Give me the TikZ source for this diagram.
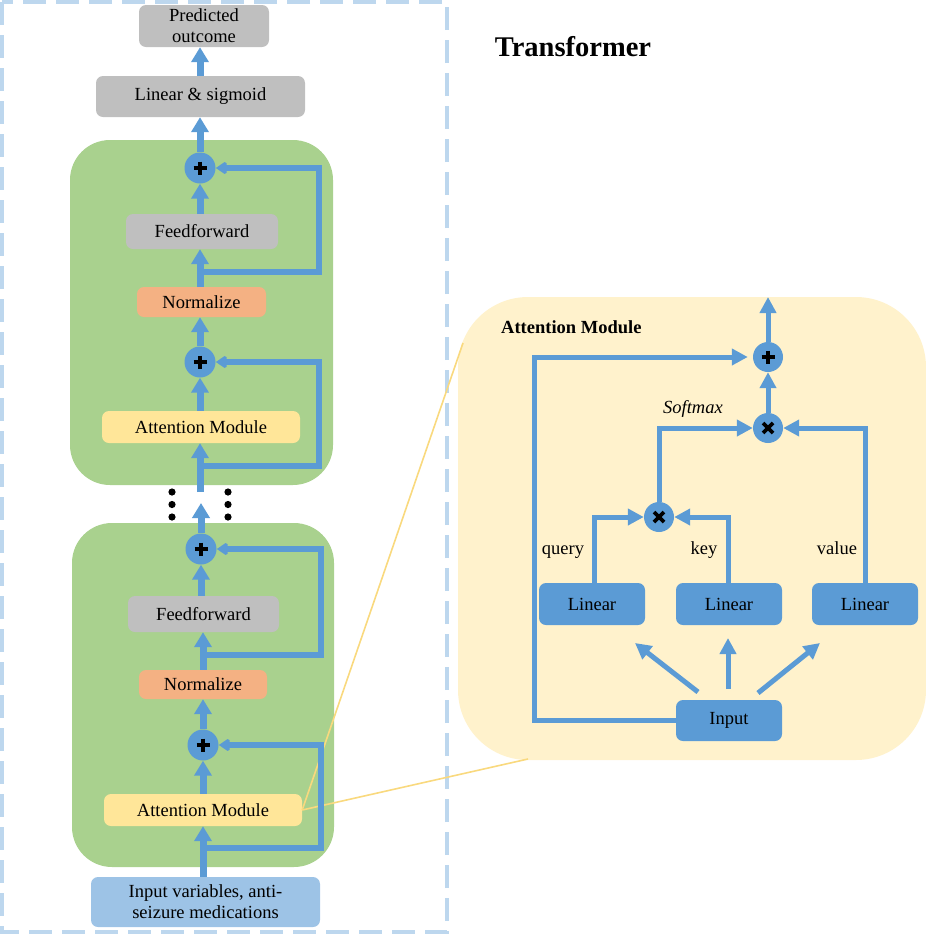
\documentclass[tikz,border=0pt]{standalone}
\usepackage{fontspec}
\setmainfont{Liberation Serif}
\usetikzlibrary{arrows.meta}
\definecolor{ablue}{HTML}{5B9BD5}
\definecolor{ggrey}{HTML}{BFBFBF}
\definecolor{ggreen}{HTML}{A9D18E}
\definecolor{normc}{HTML}{F4B183}
\definecolor{attnc}{HTML}{FFE699}
\definecolor{inblue}{HTML}{9DC3E6}
\definecolor{cream}{HTML}{FFF2CC}
\definecolor{dashc}{HTML}{BDD7EE}
\definecolor{yline}{HTML}{F9D97E}
\tikzset{
  box/.style={rectangle, rounded corners=7pt, inner sep=0pt, align=center,
    font=\fontsize{18.5}{21}\selectfont, text=black},
  greenblk/.style={fill=ggreen, rounded corners=40pt},
  arr/.style={draw=ablue, line width=7pt, -{Triangle[width=17pt,length=15pt]}},
  skiparr/.style={draw=ablue, line width=6pt, miter limit=2, -{Triangle[width=14pt,length=11pt]}},
  rarr/.style={draw=ablue, line width=5pt, -{Triangle[width=16pt,length=16pt]}},
  opc/.style={circle, fill=ablue, inner sep=0pt, minimum size=31pt},
  lbl/.style={font=\fontsize{18.5}{21}\selectfont, text=black, inner sep=0pt},
}
\newcommand{\plussym}[1]{\draw[black, line width=3.6pt] ($(#1)+(-6.5,0)$) -- ($(#1)+(6.5,0)$) ($(#1)+(0,-6.5)$) -- ($(#1)+(0,6.5)$);}
\newcommand{\multsym}[1]{\draw[black, line width=3.6pt] ($(#1)+(-5,-5)$) -- ($(#1)+(5,5)$) ($(#1)+(-5,5)$) -- ($(#1)+(5,-5)$);}
\usetikzlibrary{calc}
\begin{document}
\begin{tikzpicture}[x=1pt,y=-1pt]
\useasboundingbox (0,0) rectangle (926,935);
% outer dashed frame
\draw[dashc, line width=4pt, dash pattern=on 23pt off 10pt] (2,2) rectangle (447,932);
% title
\node[font=\bfseries\fontsize{28.5}{30}\selectfont, inner sep=0pt] (title) at (573,47) {Transformer};

% green blocks
\path[greenblk] (70,140) rectangle (333,485);
\path[greenblk] (72,523) rectangle (334,867);

% right attention module box
\path[fill=cream, rounded corners=70pt] (458,297) rectangle (926,760);

% left nodes
\node[box, fill=ggrey, minimum width=130pt, minimum height=42pt] (pred) at (204,26) {Predicted\\outcome};
\node[box, fill=ggrey, minimum width=209pt, minimum height=41pt] (lin) at (200.5,96.5) {Linear \& sigmoid};
\node[opc] (p1) at (200,168) {};
\node[box, fill=ggrey, minimum width=152pt, minimum height=35pt] (ff1) at (202,231.5) {Feedforward};
\node[box, fill=normc, minimum width=129pt, minimum height=30pt] (nm1) at (201.5,302) {Normalize};
\node[opc] (p2) at (200,362) {};
\node[box, fill=attnc, minimum width=198pt, minimum height=32pt] (am1) at (201,427) {Attention Module};

\node[opc] (p3) at (201,549) {};
\node[box, fill=ggrey, minimum width=151pt, minimum height=36pt] (ff2) at (203.5,614) {Feedforward};
\node[box, fill=normc, minimum width=128pt, minimum height=29pt] (nm2) at (203,684.5) {Normalize};
\node[opc] (p4) at (203,745) {};
\node[box, fill=attnc, minimum width=198pt, minimum height=32pt] (am2) at (203,810) {Attention Module};
\node[box, fill=inblue, minimum width=229pt, minimum height=50pt] (inp) at (205.5,902) {Input variables, anti-\\seizure medications};

% dots
\foreach \xx in {172,228}{
  \foreach \yy in {492,504.5,517}{
    \fill[black] (\xx,\yy) circle (3.6pt);
  }
}

% yellow zoom lines
\coordinate (zt) at (463,343);
\coordinate (zb) at (528,759);
\draw[yline, line width=1.6pt] (am2.east) -- (zt);
\draw[yline, line width=1.6pt] (am2.east) -- (zb);

% left trunk arrows
\draw[arr] (inp.north -| am2) -- (am2.south);
\draw[arr] (am2.north) -- (p4.south);
\draw[arr] (p4.north) -- (nm2.south -| p4);
\draw[arr] (nm2.north -| p4) -- (ff2.south -| p4);
\draw[arr] (ff2.north -| p3) -- (p3.south);
\coordinate (gapt) at (201,503);
\draw[arr] (p3.north) -- (gapt);
\coordinate (gapb) at (200,492);
\draw[arr] (gapb) -- (am1.south -| gapb);
\draw[arr] (am1.north -| p2) -- (p2.south);
\draw[arr] (p2.north) -- (nm1.south -| p2);
\draw[arr] (nm1.north -| p1) -- (ff1.south -| p1);
\draw[arr] (ff1.north -| p1) -- (p1.south);
\draw[arr] (p1.north) -- (lin.south -| p1);
\draw[arr] (lin.north -| p1) -- (pred.south -| p1);

% skip connections
\coordinate (s1) at (203,848);
\draw[skiparr] (s1) -- (321,848) -- (321,745) -- (p4.east);
\coordinate (s2) at (203,655);
\draw[skiparr] (s2) -- (321,655) -- (321,549) -- (p3.east);
\coordinate (s3) at (200,466);
\draw[skiparr] (s3) -- (319,466) -- (319,362) -- (p2.east);
\coordinate (s4) at (200,272);
\draw[skiparr] (s4) -- (319,272) -- (319,168) -- (p1.east);

\plussym{p1}
\plussym{p2}
\plussym{p3}
\plussym{p4}

% right side
\node[font=\bfseries\fontsize{18.5}{21}\selectfont, inner sep=0pt, anchor=west] (amtitle) at (501,327) {Attention Module};
\node[opc, minimum size=30pt] (r1) at (768,357) {};
\node[opc, minimum size=30pt] (m1) at (768,428) {};
\node[opc, minimum size=30pt] (m2) at (659,517) {};
\node[box, fill=ablue, minimum width=106pt, minimum height=42pt] (l1) at (592,604) {Linear};
\node[box, fill=ablue, minimum width=106pt, minimum height=42pt] (l2) at (729,604) {Linear};
\node[box, fill=ablue, minimum width=106pt, minimum height=42pt] (l3) at (865,604) {Linear};
\node[box, fill=ablue, minimum width=106pt, minimum height=41pt] (in2) at (729,720.5) {Input};

\coordinate (outtop) at (768,297);
\draw[rarr] (r1.north) -- (outtop);
\draw[rarr] (m1.north) -- (r1.south);
\draw[rarr] (in2.west) -- (534,720.5) -- (534,357) -- ([xshift=-5pt]r1.west);
\draw[rarr] (m2.north) -- (659,428) -- (m1.west);
\draw[rarr] (l3.north) -- (865,428) -- (m1.east);
\draw[rarr] (l1.north -| 594,0) -- (594,517) -- (m2.west);
\draw[rarr] (l2.north -| 728,0) -- (728,517) -- (m2.east);

\coordinate (a1s) at (698,692); \coordinate (a1e) at (635,643);
\coordinate (a2s) at (728,689); \coordinate (a2e) at (728,638);
\coordinate (a3s) at (758,693); \coordinate (a3e) at (820,643);
\draw[rarr] (a1s) -- (a1e);
\draw[rarr] (a2s) -- (a2e);
\draw[rarr] (a3s) -- (a3e);

\plussym{r1}
\multsym{m1}
\multsym{m2}

\node[lbl, anchor=base] (q) at (563,554) {query};
\node[lbl, anchor=base] (k) at (704,554) {key};
\node[lbl, anchor=base] (v) at (837,554) {value};
\node[lbl, anchor=base, font=\itshape\fontsize{18.5}{21}\selectfont] (sm) at (693,413) {Softmax};
\end{tikzpicture}
\end{document}
